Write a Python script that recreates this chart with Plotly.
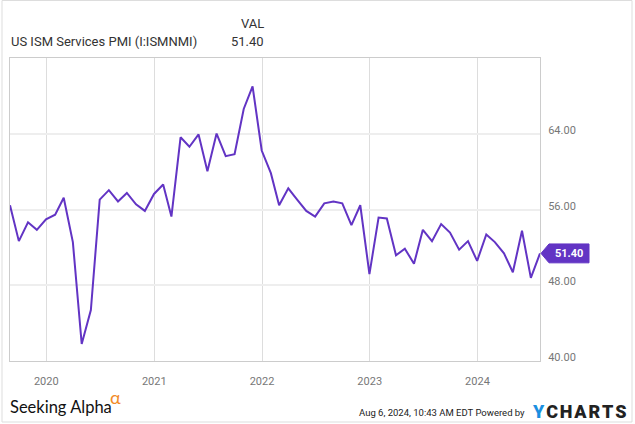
import plotly.graph_objects as go
import pandas as pd

months = pd.date_range("2019-08-01", "2024-07-01", freq="MS")
dates = [m + pd.offsets.MonthEnd(0) for m in months]
values = [56.5, 52.7, 54.7, 53.9, 55.0,
          55.5, 57.3, 52.6, 41.8, 45.4, 57.1, 58.1, 56.9, 57.8, 56.6, 55.9, 57.7,
          58.7, 55.3, 63.7, 62.7, 64.0, 60.1, 64.1, 61.7, 61.9, 66.7, 69.1, 62.3,
          59.9, 56.5, 58.3, 57.1, 55.9, 55.3, 56.7, 56.9, 56.7, 54.4, 56.5, 49.2,
          55.2, 55.1, 51.2, 51.9, 50.3, 53.9, 52.7, 54.5, 53.6, 51.8, 52.7, 50.6,
          53.4, 52.6, 51.4, 49.4, 53.8, 48.8, 51.4]
year_ticks = ["2020-01-01", "2021-01-01", "2022-01-01", "2023-01-01", "2024-01-01"]
year_labels = ["2020", "2021", "2022", "2023", "2024"]
y_ticks = [40, 48, 56, 64]
series_name = "US ISM Services PMI (I:ISMNMI)"
last_val = values[-1]

W, H = 635, 424
L, R, T, B = 10, 95, 58, 63
pw, ph = W - L - R, H - T - B

def px(x):
    return (x - L) / pw

def py(y):
    return (H - B - y) / ph

LINE = "#6234c4"
HS = "\u200a"

fig = go.Figure()
fig.add_trace(go.Scatter(x=dates, y=values, mode="lines",
                         line=dict(color=LINE, width=2), hoverinfo="skip"))

fig.update_layout(
    width=W, height=H, margin=dict(l=L, r=R, t=T, b=B),
    paper_bgcolor="white", plot_bgcolor="white", showlegend=False,
    font=dict(family="Roboto", size=11, color="#666"),
    xaxis=dict(range=["2019-08-31", "2024-07-31"], tickvals=year_ticks, ticktext=year_labels,
               showgrid=True, gridcolor="#dddddd", gridwidth=1,
               showline=True, linecolor="#cccccc", linewidth=1, mirror=True,
               ticks="", ticklabelstandoff=10, zeroline=False,
               tickfont=dict(family="Roboto", size=11, color="#777")),
    yaxis=dict(range=[40, 72.1], tickvals=y_ticks, tickformat=".2f", side="right",
               showgrid=True, gridcolor="#eeeeee", gridwidth=2,
               showline=True, linecolor="#cccccc", linewidth=1, mirror=True,
               ticks="", ticklabelstandoff=5, ticklabelshift=-4, zeroline=False,
               tickfont=dict(family="Roboto", size=11, color="#777")),
)

# outer frame
fig.add_shape(type="rect", xref="paper", yref="paper",
              x0=px(2), x1=px(632), y0=py(422), y1=py(0.5),
              line=dict(color="#dddddd", width=1), fillcolor="rgba(0,0,0,0)", layer="below")

# value badge
tip = px(541)
bx0, bx1 = px(549), px(589)
fig.add_shape(type="path", xref="paper", yref="y",
              path=f"M {tip},{last_val} L {bx0},{last_val+1.0} L {bx1},{last_val+1.0} "
                   f"L {bx1},{last_val-1.0} L {bx0},{last_val-1.0} Z",
              fillcolor=LINE, line=dict(color=LINE, width=1), layer="above")
fig.add_annotation(xref="paper", yref="y", x=(bx0 + bx1) / 2, y=last_val,
                   text=f"<b>{last_val:.2f}</b>", showarrow=False,
                   font=dict(family="Roboto", size=11, color="white"),
                   xanchor="center", yanchor="middle")

# header
fig.add_annotation(xref="paper", yref="paper", x=px(9), y=py(41), text=series_name,
                   showarrow=False, xanchor="left", yanchor="middle",
                   font=dict(family="Roboto", size=13, color="#333"))
fig.add_annotation(xref="paper", yref="paper", x=px(266), y=py(23), text="VAL",
                   showarrow=False, xanchor="right", yanchor="middle",
                   font=dict(family="Roboto", size=13, color="#333"))
fig.add_annotation(xref="paper", yref="paper", x=px(266), y=py(41), text=f"{last_val:.2f}",
                   showarrow=False, xanchor="right", yanchor="middle",
                   font=dict(family="Roboto", size=13, color="#333"))

# footer
fig.add_annotation(xref="paper", yref="paper", x=px(8), y=py(407), text="Seeking Alpha",
                   showarrow=False, xanchor="left", yanchor="middle",
                   font=dict(family="Lato", size=16.5, color="#111"))
fig.add_annotation(xref="paper", yref="paper", x=px(108), y=py(397), text="α",
                   showarrow=False, xanchor="left", yanchor="middle",
                   font=dict(family="Lato", size=18, color="#f28c28"))
fig.add_annotation(xref="paper", yref="paper", x=px(527), y=py(412),
                   text="Aug 6, 2024, 10:43 AM EDT Powered by",
                   showarrow=False, xanchor="right", yanchor="middle",
                   font=dict(family="Roboto", size=9.5, color="#222"))
fig.add_annotation(xref="paper", yref="paper", x=px(530), y=py(411),
                   text="<span style='color:#1a8fe0'>Y</span>" + HS + HS.join("CHARTS"),
                   showarrow=False, xanchor="left", yanchor="middle",
                   font=dict(family="Roboto", size=18, color="#222", weight=900))

fig.write_html("out.html", config={"displayModeBar": False},
               post_script="document.body.style.margin='0';document.body.style.overflow='hidden';")
